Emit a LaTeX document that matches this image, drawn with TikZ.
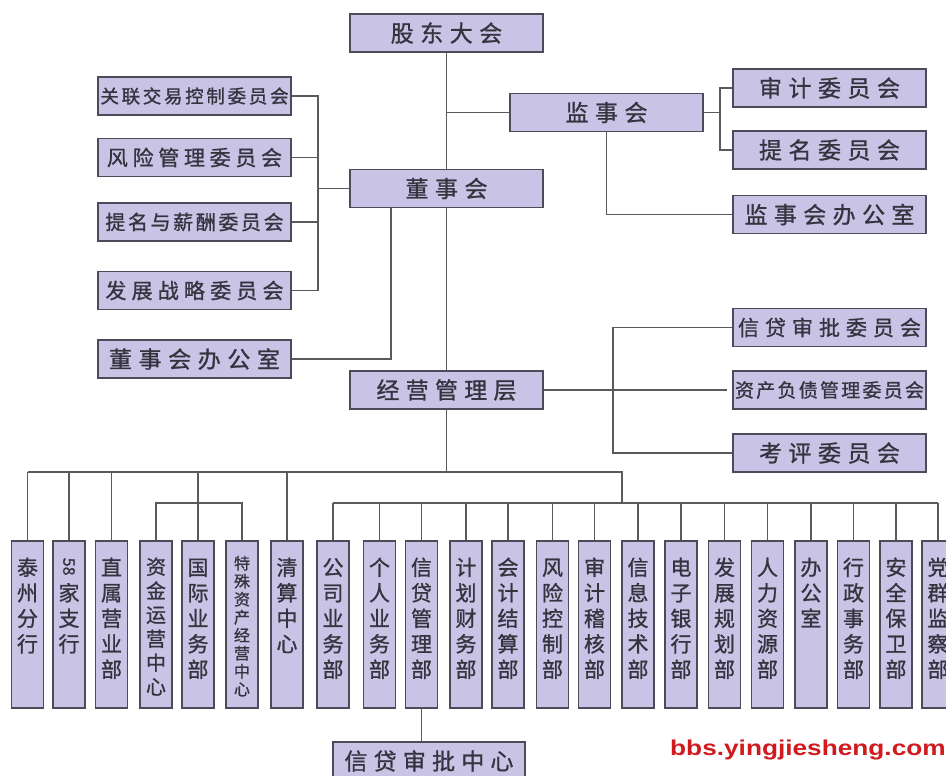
\documentclass[tikz,border=0pt]{standalone}
\usepackage{fontspec}
\usepackage{graphicx}
\setmainfont{Noto Sans CJK SC}[FakeBold=1]
\newfontfamily\wmfont{Liberation Sans}
\usetikzlibrary{backgrounds,calc}

\definecolor{boxfill}{HTML}{C9C3E6}
\definecolor{boxline}{HTML}{4B4B5A}
\definecolor{linkc}{HTML}{5A5A5A}
\definecolor{txt}{HTML}{34343F}
\definecolor{wm}{HTML}{D01A1E}

\def\spcend{}
\newcommand\spc[2]{\def\spgap{\kern#1pt}\spcfirst#2\spcend}
\def\spcfirst#1{#1\spcrest}
\def\spcrest#1{\ifx#1\spcend\else\spgap#1\expandafter\spcrest\fi}
\newcommand\htext[3]{{\fontsize{#1}{#1}\selectfont\spc{#2}{#3}}}
\newcommand\vtext[4]{\parbox[t][167pt][t]{32pt}{\centering\fontsize{#1}{#2}\selectfont\rule{0pt}{#3pt}#4}}
\newcommand\rotdigits[1]{\raisebox{17.5pt}[17.5pt][0pt]{{\fontsize{16}{16}\selectfont\rotatebox{-90}{#1}}}}

\tikzset{
  hbox/.style={draw=boxline, line width=1.6pt, fill=boxfill, minimum width=193pt, minimum height=38pt, inner sep=0pt, text=txt},
  vbox/.style={draw=boxline, line width=1.6pt, fill=boxfill, minimum width=32pt, inner sep=0pt, anchor=north, text=txt},
  link/.style={draw=linkc, line width=1.4pt},
}

\begin{document}
\begin{tikzpicture}[x=1pt,y=-1pt]
\useasboundingbox (0,0) rectangle (946,776);
\clip (0,0) rectangle (946,776);

% top level
\node[hbox] (gd) at (446.5,33) {\htext{23}{6.5}{股东大会}};
\node[hbox] (dsh) at (446.5,188.5) {\htext{23}{6.5}{董事会}};
\node[hbox] (jsh) at (606.5,112.5) {\htext{23}{6.5}{监事会}};
\node[hbox] (jyc) at (446.5,390) {\htext{23}{6.25}{经营管理层}};

% board committees
\node[hbox] (c1) at (194.5,96) {\htext{18.5}{2.7}{关联交易控制委员会}};
\node[hbox] (c2) at (194.5,157.5) {\htext{21}{4.7}{风险管理委员会}};
\node[hbox] (c3) at (194.5,222) {\htext{20}{2.6}{提名与薪酬委员会}};
\node[hbox] (c4) at (194.5,290.5) {\htext{21}{5.2}{发展战略委员会}};
\node[hbox] (dsbgs) at (194.5,359) {\htext{23}{6.6}{董事会办公室}};

% supervisory committees
\node[hbox] (sj) at (829.5,88) {\htext{23}{6.5}{审计委员会}};
\node[hbox] (tm) at (829.5,150) {\htext{23}{6.5}{提名委员会}};
\node[hbox] (jsbgs) at (829.5,214.5) {\htext{23}{6.4}{监事会办公室}};

% management committees
\node[hbox] (xdsp) at (829.5,327.5) {\htext{21}{6}{信贷审批委员会}};
\node[hbox] (zcfz) at (829.5,390) {\htext{19}{2.25}{资产负债管理委员会}};
\node[hbox] (kp) at (829.5,453) {\htext{23}{6.5}{考评委员会}};

% departments
\node[vbox] (v1) at (27.5,540) {\vtext{21}{25.5}{34.5}{泰\\州\\分\\行}};
\node[vbox] (v2) at (69,540) {\vtext{21}{25.5}{34.5}{\rotdigits{58}\\家\\支\\行}};
\node[vbox] (v3) at (111.5,540) {\vtext{21}{25.5}{34.5}{直\\属\\营\\业\\部}};
\node[vbox] (v4) at (156,540) {\vtext{20}{24}{33.5}{资\\金\\运\\营\\中\\心}};
\node[vbox] (v5) at (198,540) {\vtext{21}{25.5}{34.5}{国\\际\\业\\务\\部}};
\node[vbox] (v6) at (242,540) {\vtext{16}{18}{28.5}{特\\殊\\资\\产\\经\\营\\中\\心}};
\node[vbox] (v7) at (287,540) {\vtext{21}{25.5}{34.5}{清\\算\\中\\心}};
\node[vbox] (v8) at (333,540) {\vtext{21}{25.5}{34.5}{公\\司\\业\\务\\部}};
\node[vbox] (v9) at (379.5,540) {\vtext{21}{25.5}{34.5}{个\\人\\业\\务\\部}};
\node[vbox] (v10) at (421.5,540) {\vtext{21}{25.5}{34.5}{信\\贷\\管\\理\\部}};
\node[vbox] (v11) at (466,540) {\vtext{21}{25.5}{34.5}{计\\划\\财\\务\\部}};
\node[vbox] (v12) at (508,540) {\vtext{21}{25.5}{34.5}{会\\计\\结\\算\\部}};
\node[vbox] (v13) at (552.5,540) {\vtext{21}{25.5}{34.5}{风\\险\\控\\制\\部}};
\node[vbox] (v14) at (594.5,540) {\vtext{21}{25.5}{34.5}{审\\计\\稽\\核\\部}};
\node[vbox] (v15) at (638,540) {\vtext{21}{25.5}{34.5}{信\\息\\技\\术\\部}};
\node[vbox] (v16) at (681,540) {\vtext{21}{25.5}{34.5}{电\\子\\银\\行\\部}};
\node[vbox] (v17) at (724.5,540) {\vtext{21}{25.5}{34.5}{发\\展\\规\\划\\部}};
\node[vbox] (v18) at (767.5,540) {\vtext{21}{25.5}{34.5}{人\\力\\资\\源\\部}};
\node[vbox] (v19) at (811,540) {\vtext{21}{25.5}{34.5}{办\\公\\室}};
\node[vbox] (v20) at (853.5,540) {\vtext{21}{25.5}{34.5}{行\\政\\事\\务\\部}};
\node[vbox] (v21) at (896,540) {\vtext{21}{25.5}{34.5}{安\\全\\保\\卫\\部}};
\node[vbox] (v22) at (938,540) {\vtext{21}{25.5}{34.5}{党\\群\\监\\察\\部}};

\node[hbox, minimum width=192pt] (xdzx) at (429,761) {\htext{23}{6.2}{信贷审批中心}};

% watermark
\node[anchor=base west, inner sep=0pt, text=wm] (wmk) at (670,755)
  {\scalebox{1.22}[1]{\wmfont\bfseries\fontsize{21.5}{21.5}\selectfont bbs.yingjiesheng.com}};

% connectors
\begin{scope}[on background layer]
\fill[white] (0,0) rectangle (946,776);
\draw[link] (gd.south) -- (jyc.north);
\draw[link] (gd.south |- jsh.west) -- (jsh.west);
\coordinate (jb) at (720,112.5);
\draw[link] (jsh.east) -- (jb);
\draw[link] (sj.west) -| (jb);
\draw[link] (tm.west) -| (jb);
\draw[link] (jsh.south) |- (jsbgs.west);

\coordinate (db) at (318,188.5);
\draw[link] (dsh.west) -- (db);
\draw[link] (c1.east) -| (db);
\draw[link] (c4.east) -| (db);
\draw[link] (c2.east) -- (c2.east -| db);
\draw[link] (c3.east) -- (c3.east -| db);
\coordinate (dbx) at (391,0);
\draw[link] (dsbgs.east) -| (dbx |- dsh.south);

\draw[link, shorten >=5pt] (jyc.east) -- (zcfz.west);
\coordinate (kb) at (613,0);
\draw[link] (xdsp.west) -- (xdsp.west -| kb) -- (kp.west -| kb) -- (kp.west);

\coordinate (bus1) at (0,472);
\coordinate (bus2) at (0,503);
\coordinate (bj) at (622,472);
\draw[link] (jyc.south) -- (jyc.south |- bus1);
\draw[link] (v1.north |- bus1) -- (bj) -- (bj |- bus2);
\draw[link] (v8.north |- bus2) -- (v22.north |- bus2);
\foreach \n in {1,2,3,5,7} \draw[link] (v\n.north |- bus1) -- (v\n.north);
\foreach \n in {8,...,22} \draw[link] (v\n.north |- bus2) -- (v\n.north);
\draw[link] (v4.north) -- (v4.north |- bus2) -- (v6.north |- bus2) -- (v6.north);
\draw[link] (v10.south) -- (v10.south |- xdzx.north);
\end{scope}
\end{tikzpicture}
\end{document}
